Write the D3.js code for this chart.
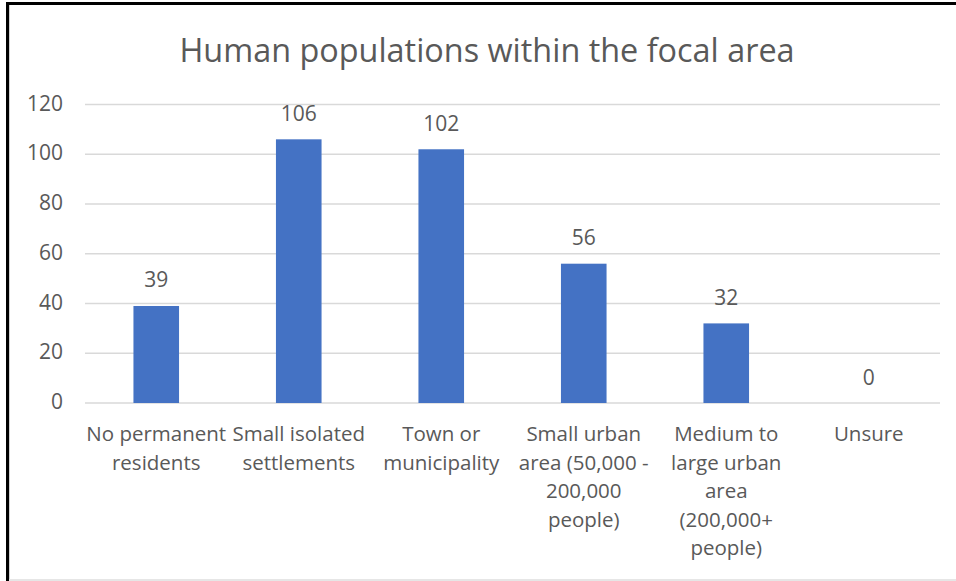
<!DOCTYPE html>
<html>
<head>
<meta charset="utf-8">
<script src="https://cdn.jsdelivr.net/npm/d3@7/dist/d3.min.js"></script>
<style>
  html, body { margin: 0; padding: 0; background: #fff; }
  svg { display: block; }
  text { font-family: "Open Sans", "Noto Sans", sans-serif; fill: #595959; }
</style>
</head>
<body>
<svg id="chart" width="956" height="581"></svg>
<script>
// Survey responses: human populations within the focal area
const categories = [
  "No permanent\nresidents",
  "Small isolated\nsettlements",
  "Town or\nmunicipality",
  "Small urban\narea (50,000 -\n200,000\npeople)",
  "Medium to\nlarge urban\narea\n(200,000+\npeople)",
  "Unsure"
];
const counts = [39, 106, 102, 56, 32, 0];
const yTicks = [0, 20, 40, 60, 80, 100, 120];
const titleText = "Human populations within the focal area";

const svg = d3.select("#chart");
const W = 956, H = 581;

const plot = { left: 85, right: 940, top: 104.5, bottom: 403 };

const x = d3.scaleBand()
  .domain(d3.range(categories.length))
  .range([plot.left, plot.right])
  .paddingInner(0.68)
  .paddingOuter(0.34);

const y = d3.scaleLinear()
  .domain([0, 120])
  .range([plot.bottom, plot.top]);

// Frame edges
svg.append("rect").attr("x", 6).attr("y", 2).attr("width", W - 6).attr("height", 3).attr("fill", "#000");
svg.append("rect").attr("x", 6).attr("y", 2).attr("width", 3).attr("height", H - 2).attr("fill", "#000");
svg.append("rect").attr("x", 9).attr("y", 5).attr("width", 1).attr("height", H - 5).attr("fill", "#d0d0d0");
svg.append("rect").attr("x", 9).attr("y", 579).attr("width", W - 9).attr("height", 2).attr("fill", "#e6e6e6");

// Title
svg.append("text")
  .attr("x", 487)
  .attr("y", 62)
  .attr("text-anchor", "middle")
  .style("font-size", "32.4px")
  .text(titleText);

// Gridlines
svg.append("g")
  .selectAll("line")
  .data(yTicks)
  .join("line")
  .attr("x1", plot.left)
  .attr("x2", plot.right)
  .attr("y1", d => y(d))
  .attr("y2", d => y(d))
  .attr("stroke", "#d9d9d9")
  .attr("stroke-width", 1.5);

// Y axis labels
const yAxis = d3.axisLeft(y).tickValues(yTicks).tickSize(0).tickPadding(0);
const yg = svg.append("g")
  .attr("transform", `translate(63,0)`)
  .call(yAxis);
yg.select(".domain").remove();
yg.selectAll("text")
  .style("font-size", "21px")
  .style("font-family", "'Open Sans', sans-serif")
  .attr("fill", "#595959")
  .attr("dy", "0.27em");

// Bars
svg.append("g")
  .selectAll("rect")
  .data(counts)
  .join("rect")
  .attr("x", (d, i) => x(i))
  .attr("width", x.bandwidth())
  .attr("y", d => y(d))
  .attr("height", d => y(0) - y(d))
  .attr("fill", "#4472C4");

// Value labels
svg.append("g")
  .selectAll("text")
  .data(counts)
  .join("text")
  .attr("x", (d, i) => x(i) + x.bandwidth() / 2)
  .attr("y", d => y(d) - 18.5)
  .attr("text-anchor", "middle")
  .style("font-size", "21px")
  .attr("fill", "#404040")
  .text(d => d);

// Category labels
const lineH = 28.5;
const cat = svg.append("g")
  .selectAll("text")
  .data(categories)
  .join("text")
  .attr("x", (d, i) => x(i) + x.bandwidth() / 2)
  .attr("y", 441)
  .attr("text-anchor", "middle")
  .style("font-size", "20.5px");
cat.each(function(d) {
  const t = d3.select(this);
  d.split("\n").forEach((line, k) => {
    t.append("tspan")
      .attr("x", t.attr("x"))
      .attr("dy", k === 0 ? 0 : lineH)
      .text(line);
  });
});
</script>
</body>
</html>
